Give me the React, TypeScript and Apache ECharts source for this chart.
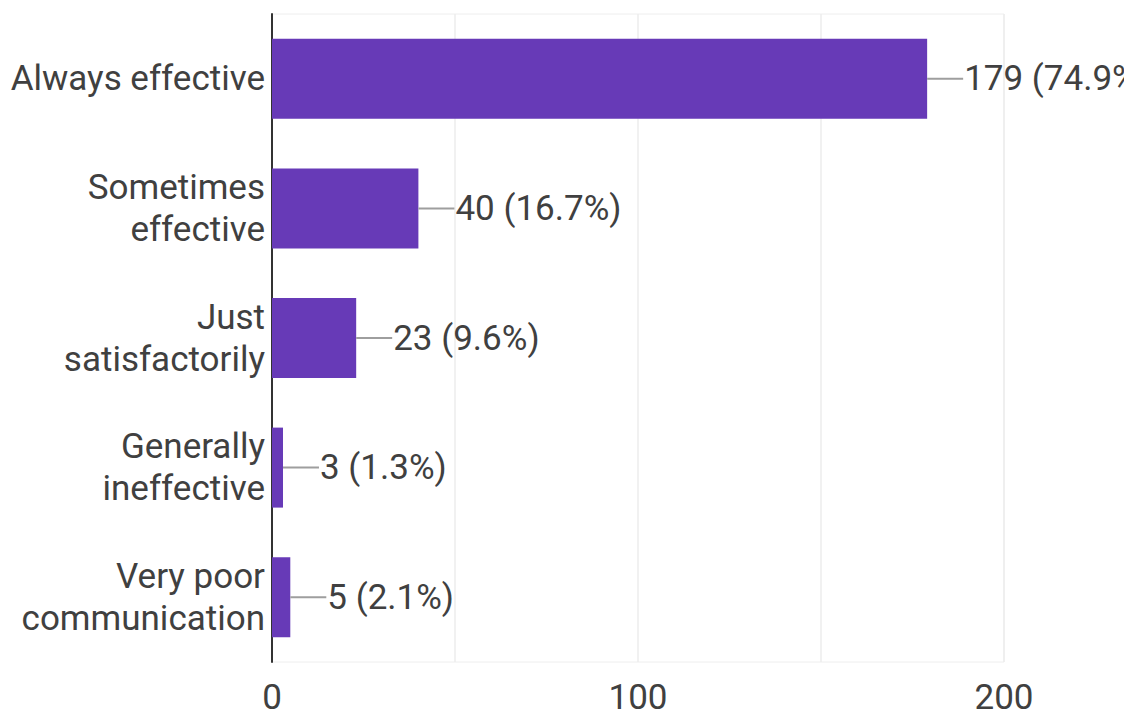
import React, { useEffect, useRef } from "react";
import * as echarts from "echarts";

const categories = [
  "Always effective",
  "Sometimes\neffective",
  "Just\nsatisfactorily",
  "Generally\nineffective",
  "Very poor\ncommunication",
];
const counts = [179, 40, 23, 3, 5];
const percents = ["74.9%", "16.7%", "9.6%", "1.3%", "2.1%"];
const xTickLabels = [0, 100, 200];

export default function App() {
  const ref = useRef<HTMLDivElement>(null);
  useEffect(() => {
    if (!ref.current) return;
    const chart = echarts.init(ref.current, undefined, { renderer: "svg" });
    const textColor = "#404040";
    const font = "Roboto";
    chart.setOption({
      animation: false,
      backgroundColor: "#ffffff",
      grid: {
        left: 272,
        right: 120,
        top: 14,
        bottom: 57,
        show: true,
        borderColor: "#eeeeee",
        borderWidth: 1,
      },
      xAxis: {
        type: "value",
        min: 0,
        max: 200,
        interval: 50,
        axisLine: { show: false },
        axisTick: { show: false },
        splitLine: { show: true, lineStyle: { color: "#ececec", width: 1.5 } },
        axisLabel: {
          margin: 18,
          color: textColor,
          fontFamily: font,
          fontSize: 35,
          formatter: (v: number) => (xTickLabels.indexOf(v) >= 0 ? String(v) : ""),
        },
      },
      yAxis: {
        type: "category",
        inverse: true,
        data: categories,
        axisLine: { show: true, lineStyle: { color: "#333333", width: 2 } },
        axisTick: { show: false },
        axisLabel: {
          margin: 7,
          color: textColor,
          fontFamily: font,
          fontSize: 35,
          lineHeight: 42,
          align: "right",
        },
      },
      series: [
        {
          type: "bar",
          data: counts,
          barWidth: 80,
          itemStyle: { color: "#673ab7" },
          z: 2,
        },
        {
          type: "custom",
          data: counts.map((c, i) => [c, i]),
          encode: { x: 0, y: 1 },
          z: 3,
          renderItem: (params: any, api: any) => {
            const v = api.value(0);
            const idx = api.value(1);
            const p = api.coord([v, idx]);
            const x0 = p[0];
            const x1 = x0 + 36;
            return {
              type: "group",
              children: [
                {
                  type: "line",
                  shape: { x1: x0, y1: p[1], x2: x1, y2: p[1] },
                  style: { stroke: "#9e9e9e", lineWidth: 2 },
                },
                {
                  type: "text",
                  x: x1 + 1,
                  y: p[1],
                  style: {
                    text: `${counts[idx]} (${percents[idx]})`,
                    fill: textColor,
                    font: `35px ${font}`,
                    textAlign: "left",
                    textVerticalAlign: "middle",
                  },
                },
              ],
            };
          },
        },
      ],
    });
    return () => chart.dispose();
  }, []);
  return (
    <div
      ref={ref}
      style={{ position: "fixed", left: 0, top: 0, width: 1124, height: 719 }}
    />
  );
}
